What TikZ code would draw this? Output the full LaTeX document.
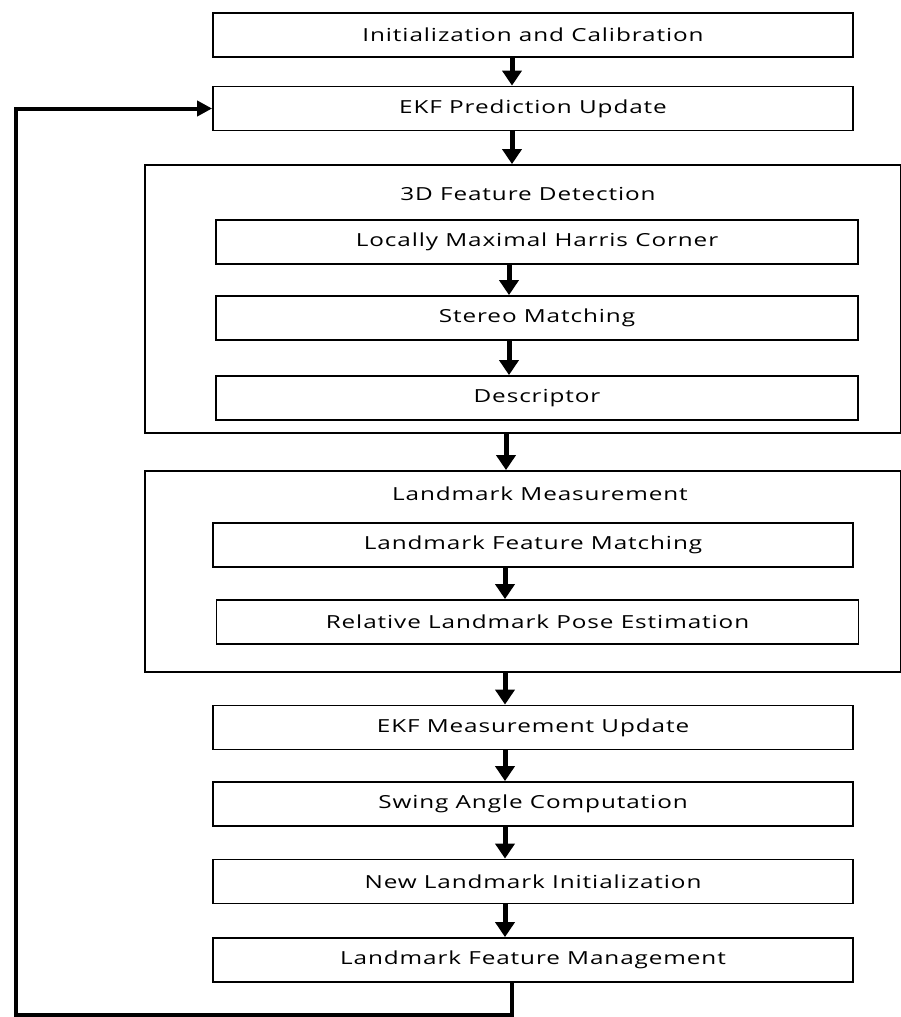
\documentclass[tikz,border=0pt]{standalone}
\usepackage{fontspec}
\setmainfont{Open Sans}[FakeStretch=1.35,LetterSpace=5]
\usetikzlibrary{arrows.meta}
\begin{document}
\begin{tikzpicture}[x=1pt,y=-1pt,
  label text/.style={font=\fontsize{18}{20}\selectfont},
  stepbox/.style={draw, line width=1.8pt, minimum width=640pt, minimum height=44pt,
    inner sep=0pt, label text},
  groupbox/.style={draw, line width=1.8pt, inner sep=0pt, minimum width=756pt},
  grouptitle/.style={inner sep=0pt, label text},
  flow/.style={line width=5pt, -{Triangle[length=15pt,width=19pt]}},
  back/.style={line width=4pt, line join=miter, -{Triangle[length=15pt,width=15pt]}}
]
\useasboundingbox (0,0) rectangle (900,1017);

% x positions of the vertical connectors
\coordinate (ax) at (512,0);
\coordinate (bx) at (509,0);
\coordinate (cx) at (506,0);
\coordinate (dx) at (505,0);

% top of the loop
\node[stepbox] (init) at (533,35) {Initialization and Calibration};
\node[stepbox] (pred) at (533,108.5) {EKF Prediction Update};

% 3D feature detection group
\node[groupbox, minimum height=268pt] (detect) at (523,299) {};
\node[grouptitle] (detecttitle) at (528,194) {3D Feature Detection};
\node[stepbox, minimum width=642pt] (harris) at (537,242) {Locally Maximal Harris Corner};
\node[stepbox, minimum width=642pt] (stereo) at (537,318) {Stereo Matching};
\node[stepbox, minimum width=642pt] (desc) at (537,398) {Descriptor};

% landmark measurement group
\node[groupbox, minimum height=201pt] (measure) at (523,571.5) {};
\node[grouptitle] (measuretitle) at (540,494) {Landmark Measurement};
\node[stepbox] (match) at (533,545) {Landmark Feature Matching};
\node[stepbox, minimum width=642pt] (pose) at (537.5,622) {Relative Landmark Pose Estimation};

% remaining steps
\node[stepbox] (ekfmu) at (533,727.5) {EKF Measurement Update};
\node[stepbox] (swing) at (533,804) {Swing Angle Computation};
\node[stepbox] (newlm) at (533,881.5) {New Landmark Initialization};
\node[stepbox] (mgmt) at (533,960) {Landmark Feature Management};

% forward connectors
\draw[flow] (init.south -| ax) -- (pred.north -| ax);
\draw[flow] (pred.south -| ax) -- (detect.north -| ax);
\draw[flow] (harris.south -| bx) -- (stereo.north -| bx);
\draw[flow] (stereo.south -| bx) -- (desc.north -| bx);
\draw[flow] (detect.south -| cx) -- (measure.north -| cx);
\draw[flow] (match.south -| dx) -- (pose.north -| dx);
\draw[flow] (measure.south -| dx) -- (ekfmu.north -| dx);
\draw[flow] (ekfmu.south -| dx) -- (swing.north -| dx);
\draw[flow] (swing.south -| dx) -- (newlm.north -| dx);
\draw[flow] (newlm.south -| dx) -- (mgmt.north -| dx);

% feedback loop back to the prediction step
\coordinate (loopR) at (512,1015);
\coordinate (loopL) at (16,1015);
\draw[back] (mgmt.south -| ax) -- (loopR) -- (loopL) |- (pred.west);
\end{tikzpicture}
\end{document}
